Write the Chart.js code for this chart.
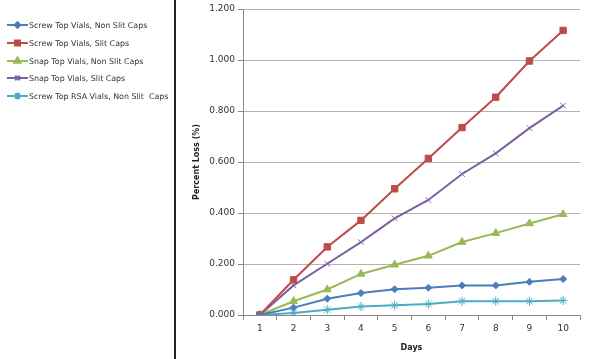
<!DOCTYPE html>
<html>
<head>
<meta charset="utf-8">
<script src="https://cdn.jsdelivr.net/npm/chart.js@4/dist/chart.umd.min.js"></script>
<style>
  html, body { margin: 0; padding: 0; background: #fff; }
  #wrap { width: 600px; height: 359px; position: relative; }
</style>
</head>
<body>
<div id="wrap"><canvas id="chart" width="600" height="359"></canvas></div>
<script>
const days = ['1', '2', '3', '4', '5', '6', '7', '8', '9', '10']
const seriesNames = [
    'Screw Top Vials, Non Slit Caps',
    'Screw Top Vials, Slit Caps',
    'Snap Top Vials, Non Slit Caps',
    'Snap Top Vials, Slit Caps',
    'Screw Top RSA Vials, Non Slit  Caps'
]
const screwNonSlit = [0, 0.029, 0.064, 0.086, 0.101, 0.107, 0.116, 0.116, 0.130, 0.141]
const screwSlit = [0, 0.138, 0.267, 0.371, 0.495, 0.614, 0.735, 0.854, 0.996, 1.116]
const snapNonSlit = [0, 0.054, 0.100, 0.161, 0.197, 0.232, 0.286, 0.321, 0.359, 0.395]
const snapSlit = [0, 0.116, 0.201, 0.286, 0.379, 0.451, 0.553, 0.634, 0.733, 0.821]
const rsaNonSlit = [0, 0.008, 0.021, 0.033, 0.038, 0.043, 0.054, 0.054, 0.054, 0.057]

const colors = ['#4A7EBB', '#BE4B48', '#98B954', '#7D60A0', '#4BACC6']
const styles = ['rectRot', 'rect', 'triangle', 'crossRot', 'star']
const radii = [3.5, 4.5, 4.5, 4, 4.5]
const values = [screwNonSlit, screwSlit, snapNonSlit, snapSlit, rsaNonSlit]

const FONT = '"DejaVu Sans", sans-serif'

// legend on the left panel plus the divider line
const sideLegend = {
    id: 'sideLegend',
    afterDraw(chart) {
        const ctx = chart.ctx
        ctx.save()
        ctx.fillStyle = '#222'
        ctx.fillRect(174, 0, 2, 359)
        const rows = [25, 43, 61, 78, 96]
        chart.data.datasets.forEach((ds, i) => {
            const y = rows[i]
            ctx.strokeStyle = ds.borderColor
            ctx.lineWidth = 2
            ctx.beginPath()
            ctx.moveTo(7, y)
            ctx.lineTo(28, y)
            ctx.stroke()
            ctx.fillStyle = ds.borderColor
            Chart.helpers.drawPoint(ctx, {
                pointStyle: ds.pointStyle,
                radius: ds.pointRadius * 0.8,
                borderWidth: 1
            }, 17.5, y)
            ctx.fillStyle = '#333'
            ctx.font = '7.9px ' + FONT
            ctx.textBaseline = 'middle'
            ctx.fillText(ds.label, 29, y + 0.5)
        })
        ctx.restore()
    }
}

new Chart(document.getElementById('chart'), {
    type: 'line',
    data: {
        labels: days,
        datasets: values.map((v, i) => ({
            label: seriesNames[i],
            data: v,
            borderColor: colors[i],
            backgroundColor: colors[i],
            borderWidth: 2,
            pointStyle: styles[i],
            pointRadius: radii[i],
            pointBorderWidth: 1,
            pointBorderColor: colors[i],
            tension: 0,
            fill: false
        }))
    },
    options: {
        responsive: false,
        animation: false,
        layout: {padding: {left: 180, right: 20, top: 9, bottom: 0}},
        plugins: {
            legend: {display: false},
            tooltip: {enabled: false}
        },
        scales: {
            x: {
                offset: true,
                afterFit: (s) => { s.height = 44 },
                border: {color: '#888', width: 1},
                grid: {offset: true, drawOnChartArea: false, drawTicks: true, tickLength: 5, color: '#888'},
                ticks: {color: '#333', font: {family: FONT, size: 9}, padding: 3},
                title: {display: true, text: 'Days', color: '#222', font: {family: FONT, size: 8, weight: 'bold'}, padding: {top: 2, bottom: 6}}
            },
            y: {
                min: 0,
                max: 1.2,
                afterFit: (s) => { s.width = 63 },
                border: {color: '#888', width: 1},
                grid: {color: '#b3b3b3', drawTicks: true, tickLength: 5, tickColor: '#888'},
                ticks: {
                    stepSize: 0.2,
                    color: '#333',
                    font: {family: FONT, size: 9},
                    padding: 3,
                    callback: (v) => Number(v).toFixed(3)
                },
                title: {display: true, text: 'Percent Loss (%)', color: '#222', font: {family: FONT, size: 8, weight: 'bold'}, padding: {top: 12, bottom: 4}}
            }
        }
    },
    plugins: [sideLegend]
})
</script>
</body>
</html>
